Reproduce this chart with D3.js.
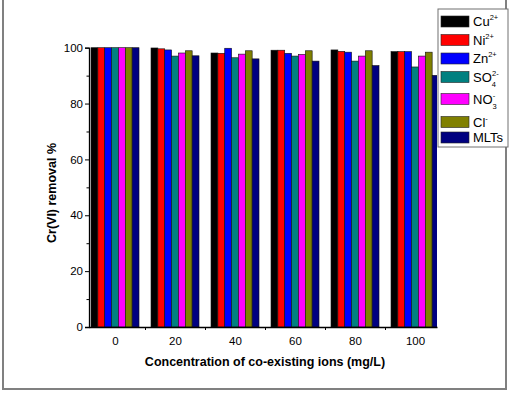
<!DOCTYPE html>
<html>
<head>
<meta charset="utf-8">
<script src="https://cdn.jsdelivr.net/npm/d3@7"></script>
<style>
  body { margin: 0; background: #fff; }
  svg { display: block; font-family: Arial, "Liberation Sans", sans-serif; }
</style>
</head>
<body>
<svg id="bar-chart" width="510" height="394"></svg>
<script>
// concentration groups (mg/L)
var groups = [0, 20, 40, 60, 80, 100];
var series = ["Cu", "Ni", "Zn", "SO4", "NO3", "Cl", "MLTs"];
var colors = ["#000000", "#ff0000", "#0000ff", "#008080", "#ff00ff", "#808000", "#000080"];

// Cr(VI) removal % per series, one value per group
var cu   = [100, 99.9, 98.1, 99.1, 99.2, 98.6];
var ni   = [100, 99.6, 98.0, 99.1, 98.7, 98.6];
var zn   = [100, 99.2, 99.8, 98.0, 98.4, 98.6];
var so4  = [100, 97.0, 96.4, 97.0, 95.2, 93.1];
var no3  = [100, 98.1, 97.7, 97.6, 97.0, 97.0];
var cl   = [100, 98.9, 98.9, 98.9, 98.9, 98.4];
var mlts = [100, 97.1, 96.0, 95.2, 93.6, 90.1];
var values = [cu, ni, zn, so4, no3, cl, mlts];

var yTicks = [0, 20, 40, 60, 80, 100];
var yMinor = [10, 30, 50, 70, 90];
var xMinor = [10, 30, 50, 70, 90];

var svg = d3.select("#bar-chart");

// outer frame
svg.append("rect")
    .attr("x", 3).attr("y", -3)
    .attr("width", 503).attr("height", 392)
    .attr("fill", "none")
    .attr("stroke", "#808080")
    .attr("stroke-width", 2);

var margin = { top: 47.7, left: 89 };
var width = 348, height = 279.3;

var g = svg.append("g")
    .attr("transform", "translate(" + margin.left + "," + margin.top + ")");

var x = d3.scaleLinear().domain([-8.67, 107.33]).range([0, width]);
var y = d3.scaleLinear().domain([0, 100]).range([height, 0]);
var xInner = d3.scaleBand().domain(series).range([-8, 8]);

g.append("clipPath").attr("id", "plot-clip")
    .append("rect").attr("x", 0).attr("y", -2).attr("width", width).attr("height", height + 4);

var bars = g.append("g").attr("clip-path", "url(#plot-clip)");

series.forEach(function (s, si) {
    bars.selectAll(".bar-" + s)
        .data(values[si].map(function (v, gi) { return { group: groups[gi], value: v }; }))
        .enter().append("rect")
        .attr("x", d => x(d.group + xInner(s)))
        .attr("y", d => y(d.value))
        .attr("width", x(xInner.bandwidth()) - x(0))
        .attr("height", d => height - y(d.value))
        .attr("fill", colors[si])
        .attr("stroke", "#111")
        .attr("stroke-width", 0.6);
});

// Y axis
var yAxis = g.append("g")
    .call(d3.axisLeft(y).tickValues(yTicks).tickSize(4).tickPadding(2))
    .style("font-size", "11.5px")
    .style("font-family", "Arial, 'Liberation Sans', sans-serif");
yAxis.select(".domain").attr("stroke-width", 1.3);
g.append("g")
    .call(d3.axisLeft(y).tickValues(yMinor).tickSize(2.5).tickFormat(""))
    .select(".domain").remove();

// X axis
var xAxis = g.append("g")
    .attr("transform", "translate(0," + height + ")")
    .call(d3.axisBottom(x).tickValues(groups).tickSize(0).tickPadding(10))
    .style("font-size", "11.5px")
    .style("font-family", "Arial, 'Liberation Sans', sans-serif");
xAxis.select(".domain").attr("stroke-width", 1.3);
g.append("g")
    .attr("transform", "translate(0," + height + ")")
    .call(d3.axisBottom(x).tickValues(xMinor).tickSize(3).tickFormat(""))
    .select(".domain").remove();

// axis titles
svg.append("text")
    .attr("x", 265)
    .attr("y", 366)
    .attr("text-anchor", "middle")
    .style("font-size", "12.5px")
    .style("font-weight", "bold")
    .text("Concentration of co-existing ions (mg/L)");

svg.append("text")
    .attr("transform", "translate(56,193) rotate(-90)")
    .attr("text-anchor", "middle")
    .style("font-size", "12.5px")
    .style("font-weight", "bold")
    .text("Cr(VI) removal %");

// legend
var legend = svg.append("g");
legend.append("rect")
    .attr("x", 438).attr("y", 9)
    .attr("width", 70).attr("height", 138)
    .attr("fill", "#fff")
    .attr("stroke", "#707070")
    .attr("stroke-width", 1);

var legendRows = [21.5, 40, 58.5, 77, 99, 122, 137.5];
var legendText = [
    [["Cu", 0], ["2+", -1]],
    [["Ni", 0], ["2+", -1]],
    [["Zn", 0], ["2+", -1]],
    [["SO", 0], ["4", 1], ["2-", -1]],
    [["NO", 0], ["3", 1], ["-", -1]],
    [["Cl", 0], ["-", -1]],
    [["MLTs", 0]]
];

series.forEach(function (s, i) {
    var row = legend.append("g").attr("transform", "translate(0," + legendRows[i] + ")");
    row.append("rect")
        .attr("x", 441).attr("y", -5.5)
        .attr("width", 28).attr("height", 11)
        .attr("fill", colors[i])
        .attr("stroke", "#222")
        .attr("stroke-width", 0.6);
    var t = row.append("text")
        .attr("x", 473).attr("y", 4.5)
        .style("font-size", "13px");
    var lastShift = 0;
    legendText[i].forEach(function (part, pi) {
        var shift = part[1] === 0 ? 0 : (part[1] < 0 ? -6 : 5);
        var ts = t.append("tspan").text(part[0]).attr("dy", shift - lastShift);
        if (part[1] !== 0) ts.style("font-size", "7.5px");
        if (part[1] < 0 && pi > 0 && legendText[i][pi - 1][1] > 0) ts.attr("dx", -4);
        lastShift = shift;
    });
});
</script>
</body>
</html>
